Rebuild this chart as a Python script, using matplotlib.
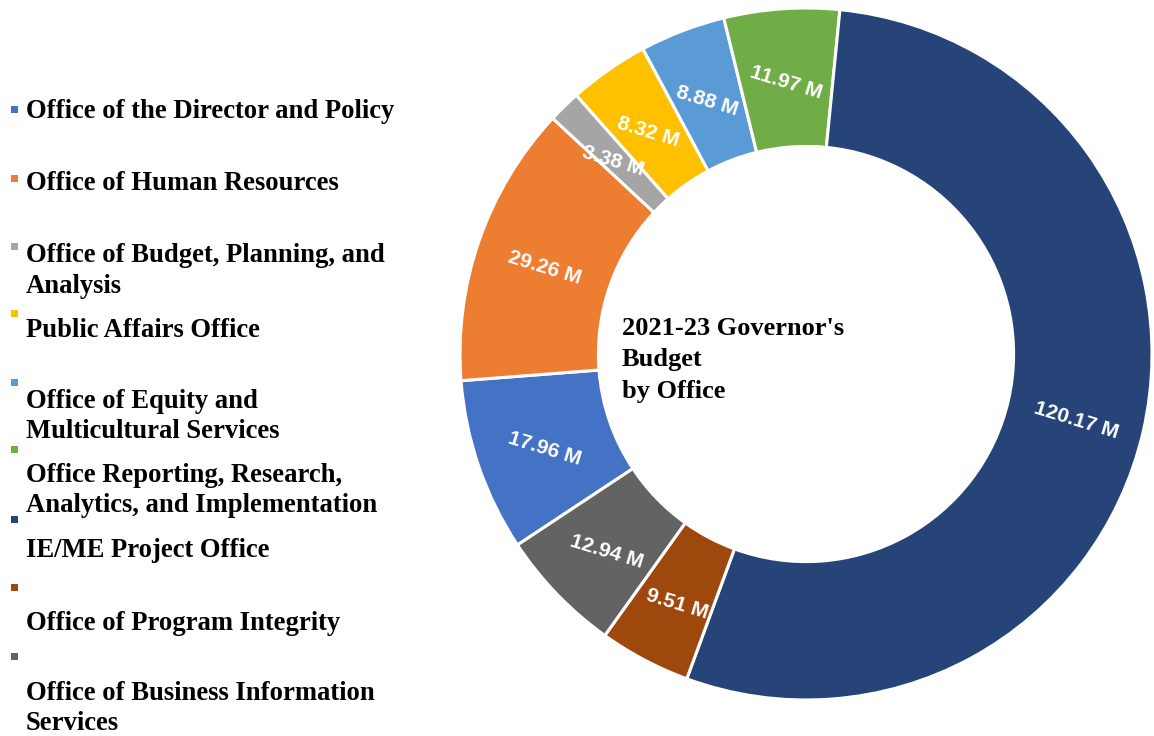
import matplotlib
matplotlib.use("Agg")
import matplotlib.pyplot as plt
from matplotlib.patches import Rectangle
import numpy as np

# ---- data ----
offices = [
    "Office of the Director and Policy",
    "Office of Human Resources",
    "Office of Budget, Planning, and\nAnalysis",
    "Public Affairs Office",
    "Office of Equity and\nMulticultural Services",
    "Office Reporting, Research,\nAnalytics, and Implementation",
    "IE/ME Project Office",
    "Office of Program Integrity",
    "Office of Business Information\nServices",
]
budget_m = [17.96, 29.26, 3.38, 8.32, 8.88, 11.97, 120.17, 9.51, 12.94]
colors = ["#4472C4", "#ED7D31", "#A5A5A5", "#FFC000", "#5B9BD5",
          "#70AD47", "#264478", "#9E480E", "#636363"]
title_lines = ["2021-23 Governor's", "Budget", "by Office"]

# ---- layout (pixels) ----
W, H = 1154, 736
cx, cy, R = 806, 354, 346
legend_marker_y = [109.5, 178.5, 246, 313, 382, 450, 519, 587, 656.5]
legend_text_baseline = [118, 190, 262, 337, 408, 482, 557, 630, 700]
line_gap = 30.5

fig = plt.figure(figsize=(W / 100, H / 100), dpi=100)
ax = fig.add_axes([(cx - R) / W, (H - cy - R) / H, 2 * R / W, 2 * R / H])

wedges, _ = ax.pie(budget_m, colors=colors, startangle=213.5, counterclock=False,
                   radius=1.0, wedgeprops=dict(width=0.4, edgecolor="white", linewidth=2.2))
ax.set_xlim(-1, 1)
ax.set_ylim(-1, 1)
ax.set_aspect("equal")
ax.axis("off")

# data labels
for w, v in zip(wedges, budget_m):
    mid = np.deg2rad((w.theta1 + w.theta2) / 2)
    ax.text(0.8 * np.cos(mid), 0.8 * np.sin(mid) - 0.015, f"{v:.2f} M",
            ha="center", va="center", rotation=-17, rotation_mode="anchor",
            color="white", fontsize=15, fontweight="bold", family="Liberation Sans")

# centre title
title_baselines = [335, 366, 398]
for t, yb in zip(title_lines, title_baselines):
    fig.text(622 / W, 1 - yb / H, t, ha="left", va="baseline",
             fontsize=19, fontweight="bold", family="Liberation Serif", color="black")

# legend
for lab, col, my, tb in zip(offices, colors, legend_marker_y, legend_text_baseline):
    fig.add_artist(Rectangle((11 / W, 1 - (my + 3.5) / H), 7 / W, 7 / H,
                             transform=fig.transFigure, facecolor=col, edgecolor="none"))
    for k, line in enumerate(lab.split("\n")):
        fig.text(26 / W, 1 - (tb + k * line_gap) / H, line, ha="left", va="baseline",
                 fontsize=19.2, fontweight="bold", family="Liberation Serif", color="black")

fig.savefig("out.png", dpi=100, facecolor="white")
